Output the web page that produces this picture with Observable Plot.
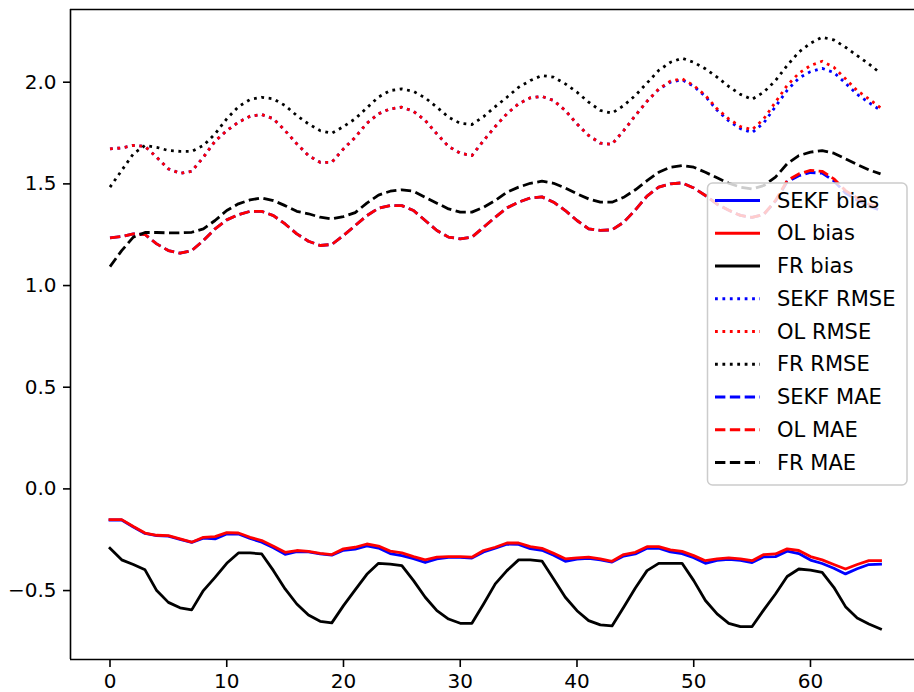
<!DOCTYPE html>
<html>
<head>
<meta charset="utf-8">
<script src="https://cdn.jsdelivr.net/npm/d3@7"></script>
<script src="https://cdn.jsdelivr.net/npm/@observablehq/plot@0.6"></script>
<style>
  html, body { margin: 0; padding: 0; background: #fff; }
  #wrap { position: relative; width: 914px; height: 692px; overflow: hidden; font-family: "DejaVu Sans", sans-serif; }
  #legend { position: absolute; left: 0; top: 0; }
</style>
</head>
<body>
<div id="wrap"></div>
<script>
// ---- data, index = x (0..66) ----
const SEKF_bias = [-0.153,-0.153,-0.187,-0.219,-0.230,-0.232,-0.248,-0.263,-0.242,-0.246,
  -0.222,-0.222,-0.244,-0.262,-0.290,-0.322,-0.308,-0.310,-0.320,-0.326,
  -0.302,-0.296,-0.280,-0.291,-0.318,-0.328,-0.343,-0.362,-0.344,-0.337,
  -0.337,-0.340,-0.310,-0.292,-0.272,-0.273,-0.294,-0.302,-0.326,-0.356,
  -0.345,-0.342,-0.349,-0.360,-0.330,-0.320,-0.292,-0.292,-0.310,-0.318,
  -0.338,-0.366,-0.352,-0.347,-0.352,-0.362,-0.334,-0.333,-0.306,-0.318,
  -0.350,-0.367,-0.390,-0.418,-0.393,-0.372,-0.370];
const OL_bias = [-0.151,-0.151,-0.185,-0.217,-0.228,-0.230,-0.246,-0.262,-0.238,-0.235,
  -0.215,-0.217,-0.238,-0.254,-0.282,-0.312,-0.303,-0.307,-0.317,-0.323,
  -0.295,-0.287,-0.271,-0.281,-0.306,-0.315,-0.333,-0.349,-0.336,-0.333,
  -0.333,-0.336,-0.303,-0.287,-0.266,-0.266,-0.284,-0.292,-0.317,-0.344,
  -0.339,-0.336,-0.344,-0.356,-0.323,-0.312,-0.284,-0.284,-0.300,-0.307,
  -0.328,-0.353,-0.344,-0.339,-0.344,-0.353,-0.323,-0.320,-0.295,-0.303,
  -0.333,-0.349,-0.372,-0.394,-0.372,-0.353,-0.353];
const FR_bias = [-0.292,-0.349,-0.372,-0.398,-0.500,-0.558,-0.585,-0.595,-0.500,-0.435,
  -0.366,-0.315,-0.315,-0.320,-0.402,-0.492,-0.566,-0.620,-0.651,-0.659,
  -0.574,-0.497,-0.420,-0.366,-0.370,-0.377,-0.451,-0.533,-0.599,-0.640,
  -0.661,-0.661,-0.566,-0.467,-0.402,-0.349,-0.349,-0.355,-0.443,-0.533,
  -0.599,-0.648,-0.669,-0.674,-0.582,-0.487,-0.402,-0.366,-0.366,-0.366,
  -0.451,-0.549,-0.615,-0.661,-0.677,-0.677,-0.595,-0.517,-0.431,-0.394,
  -0.399,-0.410,-0.484,-0.579,-0.635,-0.664,-0.689];
const SEKF_RMSE = [1.672,1.677,1.689,1.684,1.631,1.574,1.552,1.562,1.631,1.710,
  1.762,1.803,1.833,1.841,1.820,1.762,1.697,1.639,1.606,1.606,
  1.672,1.729,1.798,1.845,1.869,1.877,1.857,1.812,1.746,1.684,
  1.651,1.639,1.713,1.782,1.845,1.894,1.923,1.930,1.910,1.861,
  1.795,1.738,1.700,1.695,1.762,1.836,1.906,1.965,2.000,2.012,
  1.980,1.930,1.862,1.810,1.772,1.752,1.800,1.880,1.960,2.020,
  2.052,2.068,2.048,1.995,1.940,1.900,1.862];
const OL_RMSE = [1.672,1.677,1.689,1.684,1.631,1.574,1.552,1.562,1.631,1.710,
  1.762,1.803,1.833,1.841,1.820,1.762,1.697,1.639,1.606,1.606,
  1.672,1.729,1.798,1.845,1.869,1.877,1.857,1.812,1.746,1.684,
  1.651,1.639,1.713,1.782,1.845,1.894,1.923,1.930,1.910,1.861,
  1.795,1.738,1.700,1.695,1.762,1.836,1.906,1.967,2.005,2.017,
  1.984,1.935,1.869,1.820,1.782,1.766,1.820,1.902,1.984,2.044,
  2.082,2.103,2.074,2.017,1.959,1.918,1.874];
const FR_RMSE = [1.484,1.566,1.648,1.689,1.680,1.664,1.660,1.660,1.689,1.746,
  1.820,1.880,1.915,1.926,1.918,1.885,1.836,1.795,1.762,1.749,
  1.782,1.820,1.874,1.927,1.959,1.967,1.955,1.923,1.877,1.828,
  1.798,1.792,1.831,1.880,1.926,1.975,2.008,2.033,2.025,1.992,
  1.951,1.902,1.861,1.848,1.885,1.935,1.996,2.058,2.098,2.118,
  2.098,2.066,2.025,1.979,1.940,1.916,1.951,2.008,2.082,2.148,
  2.192,2.221,2.208,2.172,2.131,2.090,2.044];
const SEKF_MAE = [1.235,1.241,1.254,1.251,1.205,1.172,1.159,1.172,1.221,1.279,
  1.323,1.349,1.365,1.365,1.344,1.303,1.254,1.218,1.197,1.202,
  1.246,1.295,1.344,1.380,1.393,1.393,1.369,1.320,1.271,1.238,
  1.230,1.238,1.287,1.336,1.382,1.410,1.431,1.436,1.410,1.369,
  1.320,1.279,1.271,1.274,1.311,1.372,1.440,1.484,1.500,1.505,
  1.480,1.443,1.400,1.370,1.345,1.335,1.350,1.415,1.510,1.540,
  1.556,1.553,1.515,1.455,1.420,1.390,1.370];
const OL_MAE = [1.235,1.241,1.254,1.251,1.205,1.172,1.159,1.172,1.221,1.279,
  1.323,1.349,1.365,1.365,1.344,1.303,1.254,1.218,1.197,1.202,
  1.246,1.295,1.344,1.380,1.393,1.393,1.369,1.320,1.271,1.238,
  1.230,1.238,1.287,1.336,1.382,1.410,1.431,1.436,1.410,1.369,
  1.320,1.279,1.271,1.274,1.311,1.372,1.440,1.484,1.500,1.505,
  1.480,1.443,1.400,1.370,1.345,1.335,1.350,1.418,1.516,1.549,
  1.566,1.562,1.525,1.467,1.430,1.400,1.380];
const FR_MAE = [1.093,1.172,1.238,1.261,1.261,1.259,1.259,1.262,1.279,1.320,
  1.369,1.402,1.421,1.431,1.418,1.393,1.365,1.353,1.336,1.328,
  1.339,1.359,1.405,1.445,1.464,1.471,1.464,1.434,1.405,1.377,
  1.361,1.361,1.385,1.418,1.459,1.484,1.503,1.513,1.503,1.480,
  1.451,1.426,1.410,1.410,1.434,1.471,1.516,1.557,1.582,1.590,
  1.582,1.557,1.530,1.503,1.484,1.475,1.492,1.533,1.599,1.639,
  1.656,1.664,1.651,1.623,1.595,1.569,1.549];

const seriesNames = ["SEKF bias","OL bias","FR bias","SEKF RMSE","OL RMSE","FR RMSE","SEKF MAE","OL MAE","FR MAE"];
const seriesValues = [SEKF_bias, OL_bias, FR_bias, SEKF_RMSE, OL_RMSE, FR_RMSE, SEKF_MAE, OL_MAE, FR_MAE];
const seriesColors = ["#0000ff","#ff0000","#000000","#0000ff","#ff0000","#000000","#0000ff","#ff0000","#000000"];
const seriesStyles = ["solid","solid","solid","dotted","dotted","dotted","dashed","dashed","dashed"];
const xTicks = [0,10,20,30,40,50,60];
const yTicks = [-0.5,0.0,0.5,1.0,1.5,2.0];

// ---- styling ----
const LW = 2.8;
const dashFor = s => s === "dotted" ? `${LW*1}, ${LW*1.65}` : s === "dashed" ? `${LW*3.7}, ${LW*1.6}` : null;
const xDomain = [-3.383, 68.91];
const yDomain = [-0.839, 2.3576];
const FS = 20;

const lineMarks = seriesValues.map((vals, k) => Plot.line(vals, {
  x: (d, i) => i, y: d => d,
  stroke: seriesColors[k], strokeWidth: LW,
  strokeDasharray: dashFor(seriesStyles[k]),
  strokeLinecap: seriesStyles[k] === "solid" ? "square" : "butt",
  strokeLinejoin: "round"
}));

const chart = Plot.plot({
  width: 914, height: 692,
  marginLeft: 70, marginRight: 0, marginTop: 9, marginBottom: 33,
  style: { fontFamily: "DejaVu Sans, sans-serif", fontSize: FS + "px", background: "#fff", overflow: "visible" },
  x: { domain: xDomain, range: [70, 914] },
  y: { domain: yDomain },
  marks: [
    ...lineMarks,
    Plot.ruleY([yDomain[1]], { stroke: "#000", strokeWidth: 1.6 }),
    Plot.ruleY([yDomain[0]], { stroke: "#000", strokeWidth: 1.6 }),
    Plot.ruleX([xDomain[0]], { stroke: "#000", strokeWidth: 1.6 }),
    Plot.axisX(xTicks, { tickSize: 8, tickPadding: 6, fontSize: FS, strokeWidth: 1.6, label: null, tickFormat: d3.format("d") }),
    Plot.axisY(yTicks, { tickSize: 7, tickPadding: 7, fontSize: FS, strokeWidth: 1.6, label: null, tickFormat: d3.format(".1f") })
  ]
});

const wrap = document.getElementById("wrap");
wrap.appendChild(chart);

// ---- legend (SVG overlay, matplotlib style: framealpha 0.8) ----
const NS = "http://www.w3.org/2000/svg";
const lg = document.createElementNS(NS, "svg");
lg.setAttribute("id", "legend");
lg.setAttribute("width", 914);
lg.setAttribute("height", 692);
const box = document.createElementNS(NS, "rect");
Object.entries({ x: 707.5, y: 183, width: 199.5, height: 302, rx: 5, ry: 5,
  fill: "#ffffff", "fill-opacity": 0.8, stroke: "#cccccc", "stroke-width": 1.5 })
  .forEach(([a, v]) => box.setAttribute(a, v));
lg.appendChild(box);
seriesNames.forEach((name, k) => {
  const cy = 200.5 + 32.75 * k;
  const ln = document.createElementNS(NS, "line");
  const dash = dashFor(seriesStyles[k]);
  Object.entries({ x1: 715, x2: 760, y1: cy, y2: cy, stroke: seriesColors[k], "stroke-width": LW, "stroke-linecap": "butt" })
    .forEach(([a, v]) => ln.setAttribute(a, v));
  if (dash) ln.setAttribute("stroke-dasharray", dash);
  lg.appendChild(ln);
  const t = document.createElementNS(NS, "text");
  Object.entries({ x: 777, y: cy, "dominant-baseline": "central", "font-size": 21,
    "font-family": "DejaVu Sans, sans-serif", fill: "#000" })
    .forEach(([a, v]) => t.setAttribute(a, v));
  t.textContent = name;
  lg.appendChild(t);
});
wrap.appendChild(lg);
</script>
</body>
</html>
